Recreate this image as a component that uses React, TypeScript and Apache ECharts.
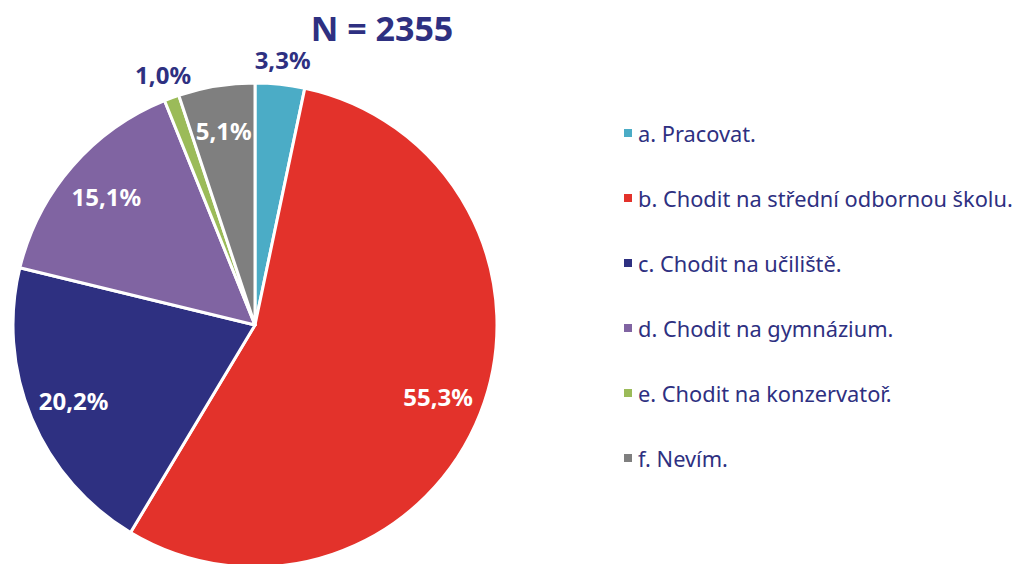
import React, { useEffect, useRef } from "react";
import * as echarts from "echarts";

const categories = [
  "a. Pracovat.",
  "b. Chodit na střední odbornou školu.",
  "c. Chodit na učiliště.",
  "d. Chodit na gymnázium.",
  "e. Chodit na konzervatoř.",
  "f. Nevím.",
];
const values = [3.3, 55.3, 20.2, 15.1, 1.0, 5.1];
const colors = ["#4bacc6", "#e3322b", "#2e3081", "#8064a2", "#9bbb59", "#7f7f7f"];
const outsideLabels = [true, false, false, false, true, false];
const titleText = "N = 2355";

const NAVY = "#2e3081";
const FONT = "'Noto Sans', 'DejaVu Sans', sans-serif";

const fmt = (v: number) => v.toFixed(1).replace(".", ",") + "%";

export default function App() {
  const ref = useRef<HTMLDivElement>(null);
  useEffect(() => {
    if (!ref.current) return;
    const chart = echarts.init(ref.current, null, { renderer: "svg" });
    const CX = 255;
    const CY = 325;
    const R = 242;
    const base = categories.map((name, i) => ({ name, value: values[i] }));
    chart.setOption({
      animation: false,
      backgroundColor: "#ffffff",
      color: colors,
      title: {
        text: titleText,
        left: 377,
        top: 6,
        textAlign: "center",
        textStyle: { color: NAVY, fontFamily: FONT, fontWeight: "bold", fontSize: 34 },
      },
      legend: {
        orient: "vertical",
        left: 617,
        top: 116,
        icon: "rect",
        itemWidth: 10,
        itemHeight: 10,
        itemGap: 41,
        data: categories,
        textStyle: { color: NAVY, fontFamily: FONT, fontSize: 21.8, lineHeight: 24 },
        selectedMode: false,
      },
      series: [
        {
          type: "pie",
          center: [CX, CY],
          radius: [0, R],
          startAngle: 90,
          clockwise: true,
          label: { show: false },
          labelLine: { show: false },
          itemStyle: { borderColor: "#ffffff", borderWidth: 3 },
          emphasis: { disabled: true },
          data: base,
        },
        {
          type: "pie",
          center: [CX, CY],
          radius: [R * 0.6, R],
          startAngle: 90,
          clockwise: true,
          silent: true,
          legendHoverLink: false,
          itemStyle: { color: "transparent", borderWidth: 0 },
          labelLine: { show: false },
          emphasis: { disabled: true },
          data: base.map((d, i) => ({
            ...d,
            label: {
              show: !outsideLabels[i],
              position: "inside",
              formatter: () => fmt(values[i]),
              color: "#ffffff",
              fontFamily: FONT,
              fontWeight: "bold",
              fontSize: 24,
            },
          })),
        },
        {
          type: "pie",
          center: [CX, CY],
          radius: [R, R * 1.18],
          startAngle: 90,
          clockwise: true,
          silent: true,
          legendHoverLink: false,
          itemStyle: { color: "transparent", borderWidth: 0 },
          labelLine: { show: false },
          emphasis: { disabled: true },
          data: base.map((d, i) => ({
            ...d,
            label: {
              show: outsideLabels[i],
              position: "inside",
              formatter: () => fmt(values[i]),
              color: NAVY,
              fontFamily: FONT,
              fontWeight: "bold",
              fontSize: 24,
            },
          })),
        },
      ],
    });
    return () => chart.dispose();
  }, []);
  return (
    <div
      ref={ref}
      style={{ position: "fixed", left: 0, top: 0, width: 1014, height: 564 }}
    />
  );
}
